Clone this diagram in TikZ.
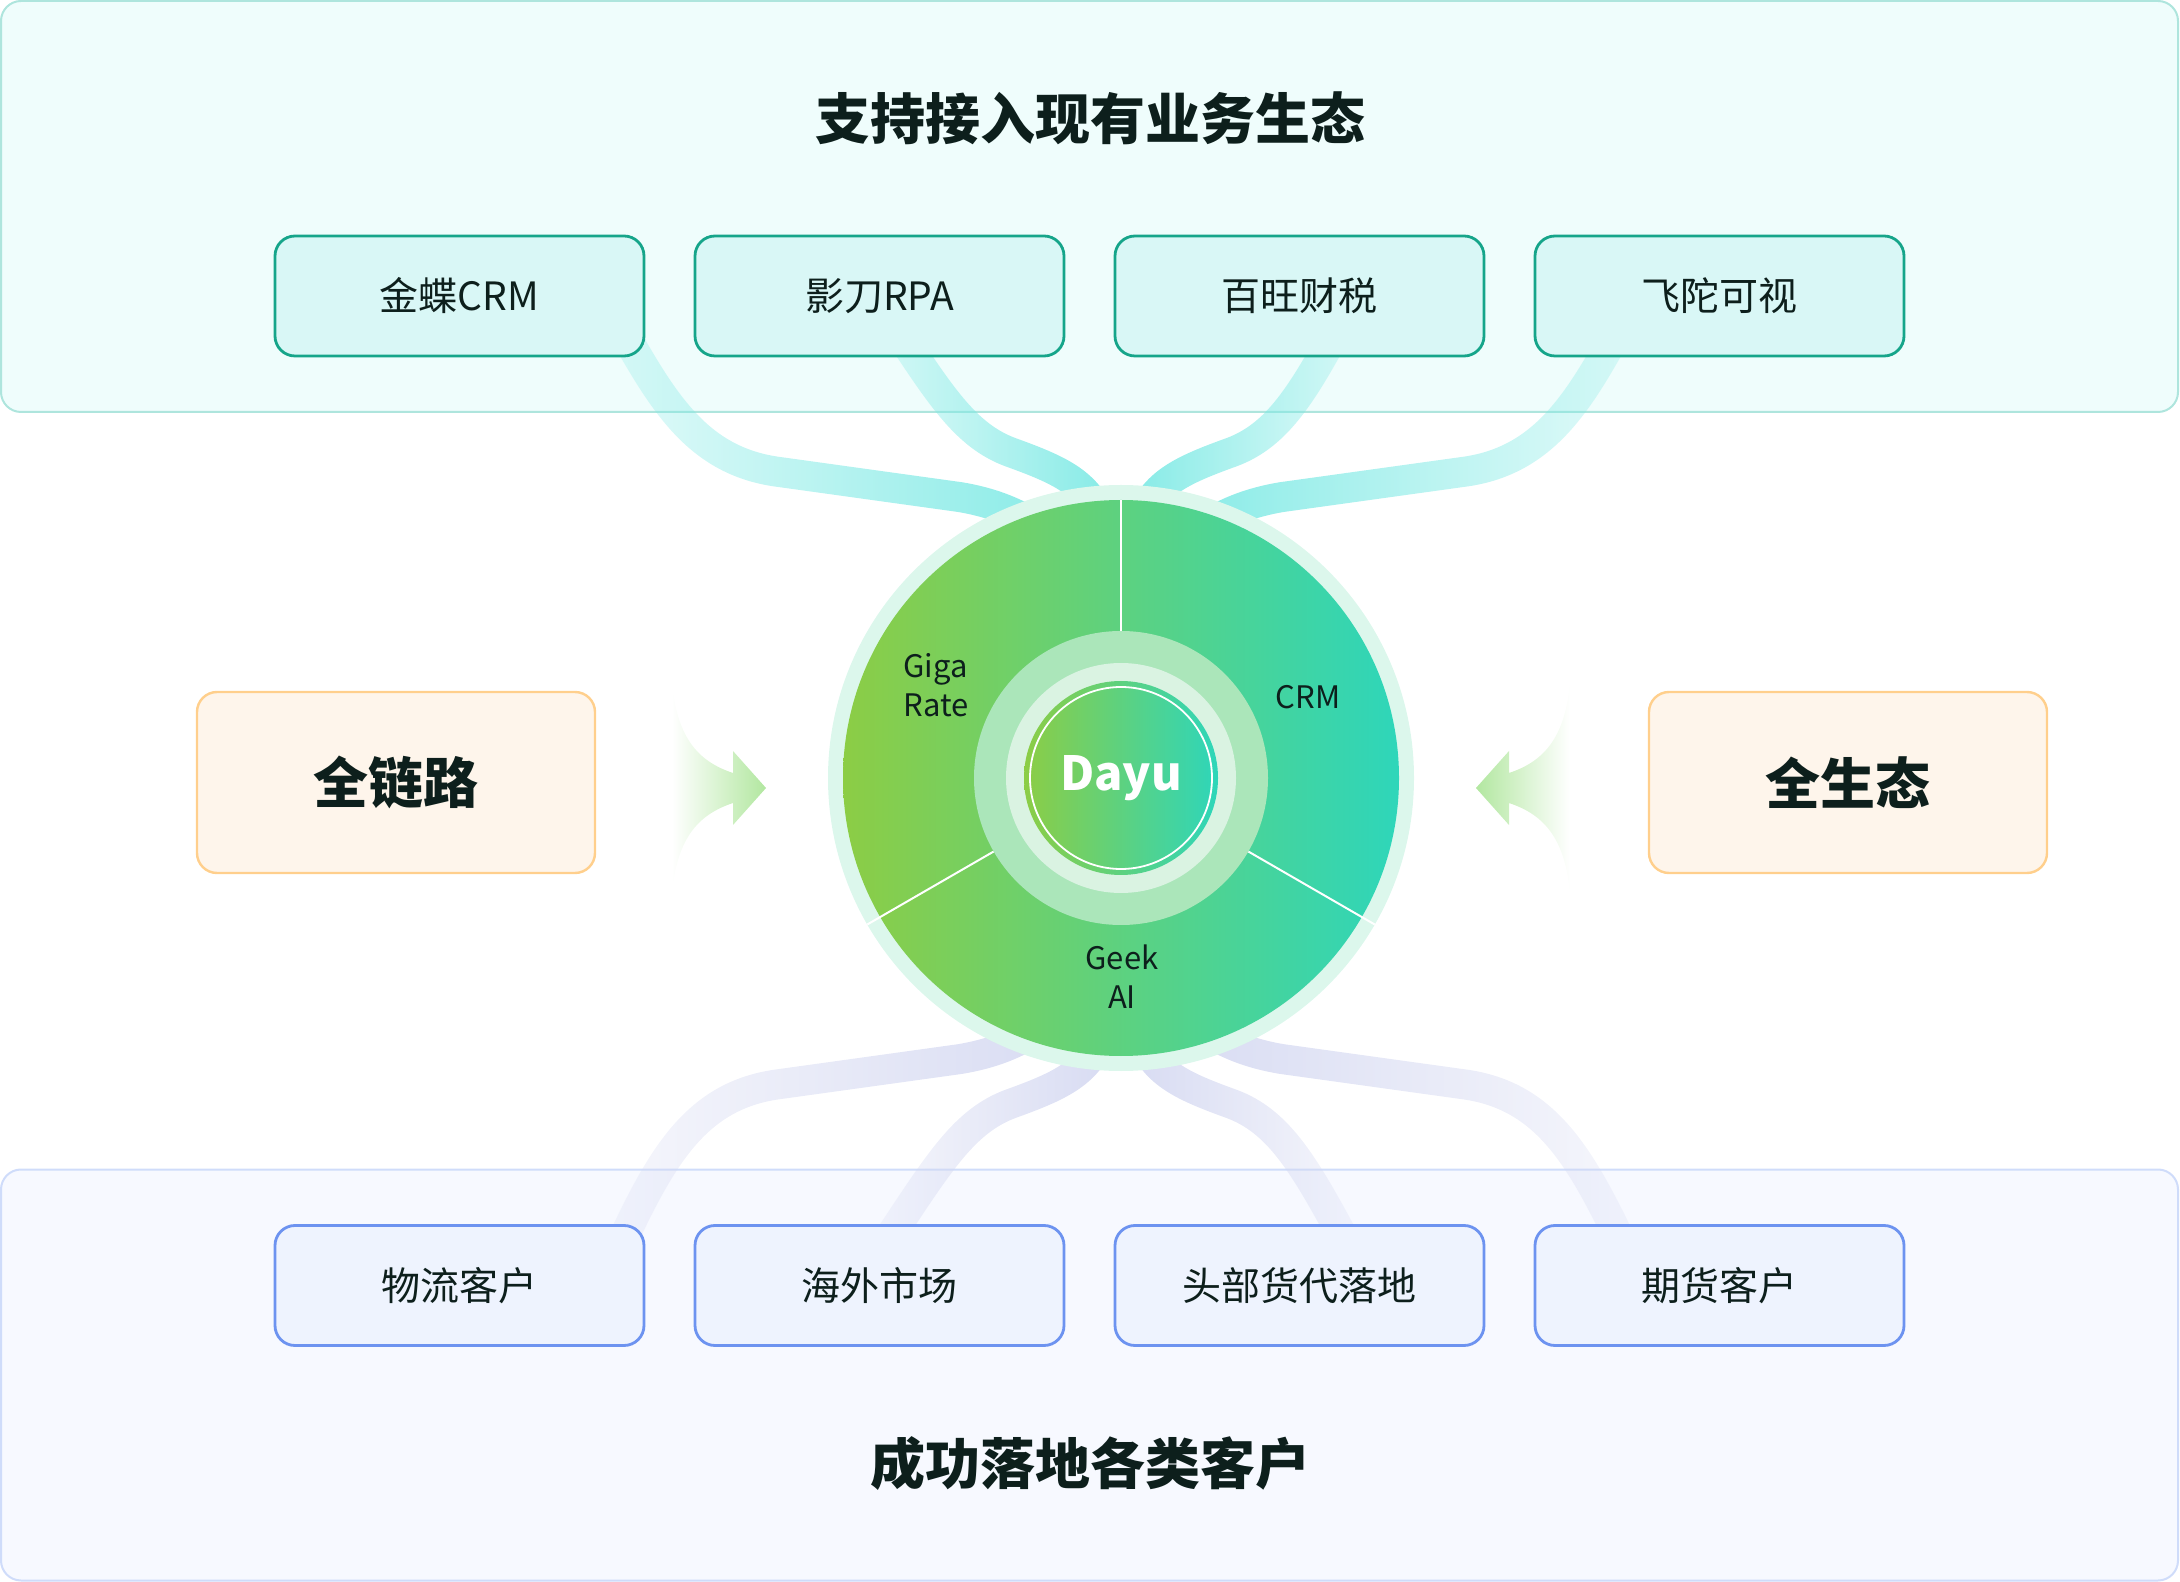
\documentclass[tikz,border=0pt]{standalone}
\usepackage{fontspec}
\setmainfont{Noto Sans CJK SC}
\usetikzlibrary{positioning,calc,fadings,backgrounds}

\definecolor{inkdark}{HTML}{0D1F1C}
\definecolor{toppanelfill}{HTML}{EFFDFC}
\definecolor{toppanelline}{HTML}{AEE5DD}
\definecolor{tealfill}{HTML}{D9F7F6}
\definecolor{tealline}{HTML}{16A58A}
\definecolor{botpanelfill}{HTML}{F7F9FF}
\definecolor{botpanelline}{HTML}{CFDCFA}
\definecolor{bluefill}{HTML}{EEF3FE}
\definecolor{blueline}{HTML}{6D93F0}
\definecolor{orangefill}{HTML}{FEF5EB}
\definecolor{orangeline}{HTML}{FFCF8C}
\definecolor{mintring}{HTML}{DCF7EC}
\definecolor{leafgreen}{HTML}{8CCD45}
\definecolor{aquagreen}{HTML}{2ED6BA}
\definecolor{halo}{HTML}{ABE6BA}
\definecolor{glow}{HTML}{DAF3E2}
\definecolor{ribbontop}{HTML}{7BE9E4}
\definecolor{ribbonbot}{HTML}{D4D8F1}
\definecolor{arrowgreen}{HTML}{B2E7A0}

\tikzfading[name=ribbonR, left color=transparent!78, right color=transparent!0]
\tikzfading[name=ribbonL, left color=transparent!0, right color=transparent!78]

\begin{document}
\begin{tikzpicture}[x=0.5pt, y=-0.5pt,
    node distance=24.1pt,
    panel/.style  ={rectangle, rounded corners=10pt, line width=1pt,
                    minimum width=1088.5pt, minimum height=205.5pt},
    appbox/.style ={rectangle, rounded corners=10pt, draw=tealline, fill=tealfill, line width=1.4pt,
                    minimum width=184.5pt, minimum height=60pt, text=inkdark,
                    font=\fontsize{19.5pt}{24pt}\selectfont},
    custbox/.style={appbox, draw=blueline, fill=bluefill},
    sidebox/.style={rectangle, rounded corners=10pt, draw=orangeline, fill=orangefill, line width=1.2pt,
                    minimum width=199pt, minimum height=90.5pt, text=inkdark,
                    font=\fontsize{27.5pt}{32pt}\selectfont\bfseries},
    headline/.style={text=inkdark, font=\fontsize{27.5pt}{32pt}\selectfont\bfseries},
    seglabel/.style={text=inkdark, font=\fontsize{15.5pt}{19.5pt}\selectfont},
    ribbon/.style ={line width=15pt},
    upribbon/.style={ribbon, draw=ribbontop},
    lowribbon/.style={ribbon, draw=ribbonbot}]
  \useasboundingbox (0,0) rectangle (2180,1582);

  % titles
  \node[headline] (uptitle)  at (1090,118)  {支持接入现有业务生态};
  \node[headline] (lowtitle) at (1090,1464) {成功落地各类客户};

  % ecosystem row
  \node[appbox] (jdcrm) at (459.5,296) {金蝶CRM};
  \node[appbox, right=of jdcrm] (ydrpa)  {影刀RPA};
  \node[appbox, right=of ydrpa] (bwtax)  {百旺财税};
  \node[appbox, right=of bwtax] (ftview) {飞陀可视};

  % customer row
  \node[custbox] (wlcust) at (459.5,1285.5) {物流客户};
  \node[custbox, right=of wlcust] (hwmkt)  {海外市场};
  \node[custbox, right=of hwmkt]  (hdfwd)  {头部货代落地};
  \node[custbox, right=of hdfwd]  (qhcust) {期货客户};

  % core wheel
  \node[circle, fill=mintring, minimum size=293pt, inner sep=0pt] (ring) at (1121,778) {};
  \shade[left color=leafgreen, right color=aquagreen] (ring.center) circle (278);
  \foreach \a/\r in {-90/278, 150/293, 30/293}
    \draw[white, line width=1pt] ($(ring.center)+(\a:147)$) -- ($(ring.center)+(\a:\r)$);
  \node[circle, fill=halo, minimum size=147pt, inner sep=0pt] (halo) at (ring.center) {};
  \node[circle, fill=glow, minimum size=115pt, inner sep=0pt] (glow) at (ring.center) {};
  \shade[left color=leafgreen, right color=aquagreen] (ring.center) circle (97);
  \draw[white, line width=0.9pt] (ring.center) circle (91);
  \node[text=white, font=\fontsize{23.5pt}{28pt}\selectfont\bfseries] (dayu) at (ring.center) {Dayu};
  \node[seglabel, align=left]   (giga)   at (936,685)  {Giga\\Rate};
  \node[seglabel]               (crmseg) at (1308,697) {CRM};
  \node[seglabel, align=center] (geek)   at (1122,977) {Geek\\AI};

  % side arrows
  \shade[left color=white, middle color=arrowgreen!55, right color=arrowgreen]
    (672,682) .. controls (677,740) and (700,762) .. (733,773) -- (733,751) -- (766,788)
    -- (733,825) -- (733,803) .. controls (700,814) and (677,836) .. (672,894) -- cycle;
  \shade[left color=arrowgreen, middle color=arrowgreen!55, right color=white]
    (1570,682) .. controls (1565,740) and (1542,762) .. (1509,773) -- (1509,751) -- (1476,788)
    -- (1509,825) -- (1509,803) .. controls (1542,814) and (1565,836) .. (1570,894) -- cycle;
  \node[sidebox] (fullchain) at (396,782.5)  {全链路};
  \node[sidebox] (fulleco)   at (1848,782.5) {全生态};

  \begin{scope}[on background layer]
    \node[panel, draw=toppanelline, fill=toppanelfill] (upper) at (1089.5,206.5) {};
    \node[panel, draw=botpanelline, fill=botpanelfill] (lower) at (1089.5,1375) {};
    % ribbons into the wheel
    \draw[upribbon, path fading=ribbonR] ($(jdcrm.south east)+(-22,-26)$)
      .. controls (665,405) and (700,462) .. (780,472) -- (960,497)
      .. controls (990,502) and (1020,512) .. (1050,535) -- (ring.center);
    \draw[upribbon, path fading=ribbonR] ($(ydrpa.south)+(12,-36)$)
      .. controls (940,395) and (965,435) .. (1010,452)
      .. controls (1060,470) and (1085,482) .. (1100,515) -- (ring.center);
    \draw[upribbon, path fading=ribbonL] ($(bwtax.south)+(42,-36)$)
      .. controls (1302,395) and (1277,435) .. (1232,452)
      .. controls (1182,470) and (1157,482) .. (1142,515) -- (ring.center);
    \draw[upribbon, path fading=ribbonL] ($(ftview.south west)+(84,-26)$)
      .. controls (1577,405) and (1542,462) .. (1462,472) -- (1282,497)
      .. controls (1252,502) and (1222,512) .. (1192,535) -- (ring.center);
    % ribbons out to customers
    \draw[lowribbon, path fading=ribbonR] ($(wlcust.north east)+(-20,10)$)
      .. controls (665,1151) and (700,1094) .. (780,1084) -- (960,1059)
      .. controls (990,1054) and (1020,1044) .. (1050,1021) -- (ring.center);
    \draw[lowribbon, path fading=ribbonR] ($(hwmkt.north)+(12,10)$)
      .. controls (940,1161) and (965,1121) .. (1010,1104)
      .. controls (1060,1086) and (1085,1074) .. (1100,1041) -- (ring.center);
    \draw[lowribbon, path fading=ribbonL] ($(hdfwd.north)+(42,10)$)
      .. controls (1302,1161) and (1277,1121) .. (1232,1104)
      .. controls (1182,1086) and (1157,1074) .. (1142,1041) -- (ring.center);
    \draw[lowribbon, path fading=ribbonL] ($(qhcust.north west)+(84,10)$)
      .. controls (1577,1151) and (1542,1094) .. (1462,1084) -- (1282,1059)
      .. controls (1252,1054) and (1222,1044) .. (1192,1021) -- (ring.center);
  \end{scope}
\end{tikzpicture}
\end{document}
